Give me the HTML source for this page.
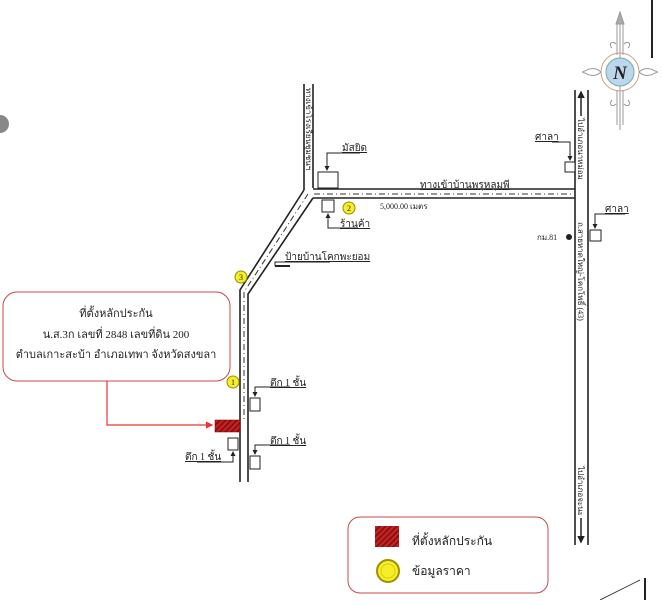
<!DOCTYPE html>
<html><head><meta charset="utf-8"><style>
body{margin:0;background:#fff;width:663px;height:600px;overflow:hidden}
svg text{font-family:"Liberation Serif","Noto Serif CJK SC","Noto Sans CJK SC",serif;fill:#222}
</style></head><body>
<svg width="663" height="600" viewBox="0 0 663 600" xmlns="http://www.w3.org/2000/svg">
<defs>
<pattern id="h" width="4" height="4" patternUnits="userSpaceOnUse" patternTransform="rotate(45)">
<rect width="4" height="4" fill="#c62020"/><rect width="1.5" height="4" fill="#7a1010"/></pattern>
<marker id="ar" markerWidth="6" markerHeight="6" refX="5" refY="3" orient="auto"><path d="M0,0L6,3L0,6z" fill="#e33"/></marker>
<marker id="ak" markerWidth="5" markerHeight="5" refX="4" refY="2.5" orient="auto"><path d="M0,0L5,2.5L0,5z" fill="#222"/></marker>
</defs>
<g stroke="#222" stroke-width="1.6" fill="none">
<path d="M304,84V190"/><path d="M313,84V188"/>
<path d="M313,189H575"/><path d="M313,198H575"/>
<path d="M304,190L240,290V482"/><path d="M313,198L248,294V482"/>
<path d="M575,90V545"/><path d="M588,90V545"/>
</g>
<g stroke="#333" stroke-width="1" stroke-dasharray="6,3,1,3" fill="none">
<path d="M314,194H572"/><path d="M308,194L244,292V420"/>
</g>
<text transform="translate(306,88) rotate(90)" font-size="8">ทางเข้าโรงเรียนชุมชนฯ</text>
<text x="420" y="188" font-size="10" text-decoration="underline">ทางเข้าบ้านพรุหลุมพี</text>
<text x="380" y="209" font-size="8">5,000.00 เมตร</text>
<g stroke="#222" fill="#fff" stroke-width="1">
<rect x="318" y="172" width="20" height="16"/><rect x="322" y="200" width="12" height="12"/>
<rect x="565" y="162" width="10" height="10"/><rect x="590" y="230" width="11" height="11"/>
<rect x="250" y="398" width="10" height="13"/><rect x="250" y="456" width="10" height="13"/>
<rect x="228" y="438" width="10" height="12"/>
</g>
<g stroke="#222" stroke-width="1" fill="none" marker-end="url(#ak)">
<path d="M360,153H327V170"/><path d="M358,228H328V214"/>
<path d="M552,142H570V160"/><path d="M625,214H595V228"/>
<path d="M290,387H255V396"/><path d="M290,445H255V454"/>
<path d="M197,462H233V452"/>
</g>
<path d="M275,266H290" stroke="#222" stroke-width="2"/>
<path d="M275,266V262H330" stroke="#222" stroke-width="1" fill="none"/>
<g font-size="10">
<text x="342" y="151" text-decoration="underline">มัสยิด</text>
<text x="340" y="227" text-decoration="underline">ร้านค้า</text>
<text x="285" y="260" text-decoration="underline">ป้ายบ้านโคกพะยอม</text>
<text x="535" y="140" text-decoration="underline">ศาลา</text>
<text x="605" y="212" text-decoration="underline">ศาลา</text>
<text x="270" y="386" text-decoration="underline">ตึก 1 ชั้น</text>
<text x="270" y="444" text-decoration="underline">ตึก 1 ชั้น</text>
<text x="185" y="460" text-decoration="underline">ตึก 1 ชั้น</text>
<text x="537" y="240" font-size="8">กม.81</text>
</g>
<circle cx="569" cy="237" r="3" fill="#222"/>
<g font-size="8">
<text transform="translate(578,118) rotate(90)">ไปอำเภอนาหม่อม</text>
<text transform="translate(578,222) rotate(90)">ถ.สายหาดใหญ่-โคกโพธิ์ (43)</text>
<text transform="translate(578,466) rotate(90)">ไปอำเภอจะนะ</text>
</g>
<path d="M581,116V92" stroke="#222" stroke-width="1.5" marker-end="url(#ak)"/>
<path d="M581,518V542" stroke="#222" stroke-width="1.5" marker-end="url(#ak)"/>
<g fill="#f5ef2a" stroke="#9a8a00" stroke-width="1">
<circle cx="349" cy="208" r="6"/><circle cx="241" cy="277" r="6"/><circle cx="233" cy="382" r="6"/>
</g>
<g font-size="8" text-anchor="middle" font-family="Liberation Sans">
<text x="349" y="211">2</text><text x="241" y="280">3</text><text x="233" y="385">1</text>
</g>
<rect x="3" y="292" width="227" height="89" rx="14" fill="#fff" stroke="#c9484a" stroke-width="1"/>
<g font-size="11" text-anchor="middle">
<text x="116" y="317">ที่ตั้งหลักประกัน</text>
<text x="116" y="338">น.ส.3ก เลขที่  2848 เลขที่ดิน 200</text>
<text x="116" y="358">ตำบลเกาะสะบ้า อำเภอเทพา จังหวัดสงขลา</text>
</g>
<path d="M107,381V425H212" stroke="#e33" stroke-width="1.2" fill="none" marker-end="url(#ar)"/>
<rect x="215" y="420" width="25" height="12" fill="url(#h)" stroke="#600" stroke-width=".5"/>
<rect x="348" y="517" width="200" height="76" rx="12" fill="#fff" stroke="#c9484a" stroke-width="1"/>
<rect x="375" y="526" width="24" height="21" fill="url(#h)"/>
<circle cx="388" cy="571" r="11" fill="#f5ef2a" stroke="#a09000" stroke-width="2"/>
<circle cx="388" cy="571" r="7" fill="none" stroke="#d8cc00" stroke-width="1"/>
<g font-size="12" font-family="Liberation Sans,Noto Sans CJK SC,sans-serif">
<text x="412" y="545">ที่ตั้งหลักประกัน</text>
<text x="412" y="575">ข้อมูลราคา</text>
</g>
<g stroke="#999" fill="none" stroke-width="1">
<path d="M620,15V130"/><path d="M617,22V55M623,22V55M617,90V125M623,90V125"/>
<path d="M620,12L616,24H624z" fill="#aaa"/>
<circle cx="620" cy="72" r="19" stroke="#c8a080"/>
<path d="M601,72C592,64 585,72 582,72C585,72 592,80 601,72"/>
<path d="M639,72C648,64 655,72 658,72C655,72 648,80 639,72"/>
<path d="M612,48c-4,-4 0,-8 4,-4M628,48c4,-4 0,-8 -4,-4M612,100c-4,4 0,8 4,4M628,100c4,4 0,8 -4,4"/>
</g>
<circle cx="620" cy="72" r="14" fill="#bcd6ec" stroke="#7aa" stroke-width="1"/>
<text x="620" y="79" font-size="19" font-weight="bold" font-style="italic" text-anchor="middle" fill="#112">N</text>
<path d="M652,0V58" stroke="#222" stroke-width="2"/>
<circle cx="0" cy="124" r="9" fill="#888"/>
<path d="M645,600V578" stroke="#222" stroke-width="2"/>
<path d="M600,600L640,580" stroke="#444" stroke-width="1"/>
</svg>
</body></html>
